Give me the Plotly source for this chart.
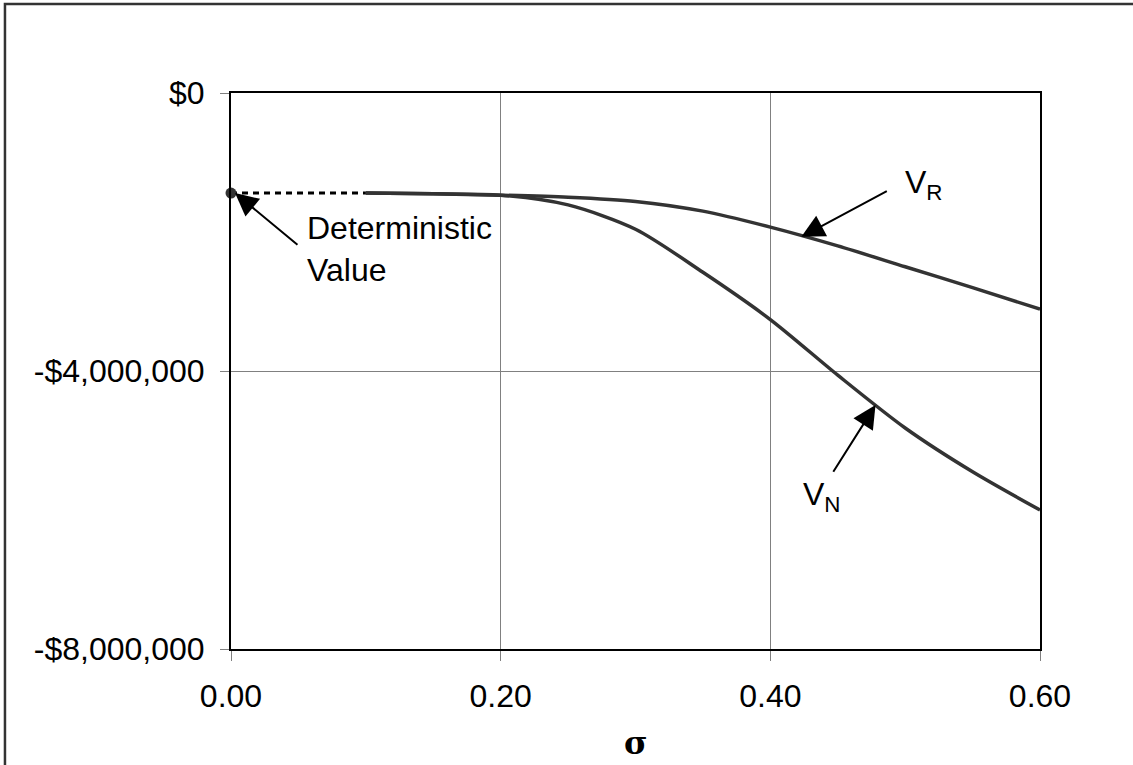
import plotly.graph_objects as go

# Data
sigma = [0.10, 0.15, 0.20, 0.25, 0.30, 0.35, 0.40, 0.45, 0.50, 0.55, 0.60]
v_r = [-1.44e6, -1.45e6, -1.47e6, -1.50e6, -1.56e6, -1.70e6, -1.93e6, -2.20e6, -2.50e6, -2.80e6, -3.11e6]
v_n = [-1.44e6, -1.45e6, -1.47e6, -1.61e6, -1.96e6, -2.58e6, -3.26e6, -4.06e6, -4.82e6, -5.45e6, -6.00e6]
det_sigma = [0.0, 0.10]
det_value = [-1.44e6, -1.44e6]
x_ticks = [0.0, 0.2, 0.4, 0.6]
x_tick_text = ["0.00", "0.20", "0.40", "0.60"]
y_ticks = [0, -4e6, -8e6]
y_tick_text = ["$0", "-$4,000,000", "-$8,000,000"]

FONT = "Liberation Sans, Arial, sans-serif"
LINE = "#333333"

fig = go.Figure()
fig.add_trace(go.Scatter(x=sigma, y=v_r, mode="lines", line=dict(color=LINE, width=3.5, shape="spline", smoothing=0.8), showlegend=False))
fig.add_trace(go.Scatter(x=sigma, y=v_n, mode="lines", line=dict(color=LINE, width=3.5, shape="spline", smoothing=0.8), showlegend=False))
fig.add_trace(go.Scatter(x=det_sigma, y=det_value, mode="lines", line=dict(color="black", width=3, dash="6px,5px"), showlegend=False))
fig.add_trace(go.Scatter(x=[det_sigma[0]], y=[det_value[0]], mode="markers",
                         marker=dict(color=LINE, size=11), showlegend=False, cliponaxis=False))

arrow = dict(showarrow=True, arrowhead=2, arrowsize=2.3, arrowwidth=2, arrowcolor="black",
             axref="x", ayref="y", xref="x", yref="y", text="")
fig.add_annotation(x=0.003, y=-1.44e6, ax=0.0504, ay=-2.20e6, **arrow)
fig.add_annotation(x=0.423, y=-2.07e6, ax=0.4875, ay=-1.40e6, **arrow)
fig.add_annotation(x=0.478, y=-4.49e6, ax=0.446, ay=-5.47e6, **arrow)

tfont = dict(family=FONT, size=32, color="black")
fig.add_annotation(x=0.0549, y=-2.245e6, text="Deterministic<br>Value", showarrow=False,
                   xanchor="left", yanchor="middle", align="left", font=tfont)
fig.add_annotation(x=0.514, y=-1.32e6, text="V<sub>R</sub>", showarrow=False,
                   xanchor="center", yanchor="middle", font=tfont)
fig.add_annotation(x=0.4385, y=-5.81e6, text="V<sub>N</sub>", showarrow=False,
                   xanchor="center", yanchor="middle", font=tfont)
fig.add_annotation(x=0.5, y=-0.169, xref="paper", yref="paper", text="<b>σ</b>", showarrow=False,
                   xanchor="center", yanchor="middle", font=dict(family="DejaVu Serif, serif", size=32, color="black"))

# outer frame
fig.add_shape(type="rect", xref="paper", yref="paper", x0=-0.2794, x1=1.13, y0=-0.23, y1=1.16,
              line=dict(color="#333333", width=2.5), fillcolor="rgba(0,0,0,0)")

fig.update_xaxes(range=[0, 0.6], tickvals=x_ticks, ticktext=x_tick_text, showgrid=True,
                 gridcolor="#808080", gridwidth=1, showline=True, linecolor="black", linewidth=2,
                 mirror=True, ticks="outside", ticklen=10, tickcolor="#808080", tickwidth=1,
                 tickfont=tfont, zeroline=False, ticklabelstandoff=8)
fig.update_yaxes(range=[-8e6, 0], tickvals=y_ticks, ticktext=y_tick_text, showgrid=True,
                 gridcolor="#808080", gridwidth=1, showline=True, linecolor="black", linewidth=2,
                 mirror=True, ticks="outside", ticklen=9, tickcolor="#808080", tickwidth=1,
                 tickfont=tfont, zeroline=False, ticklabelstandoff=9)

fig.update_layout(width=1133, height=765, margin=dict(l=231, r=93, t=93, b=116),
                  paper_bgcolor="white", plot_bgcolor="white", showlegend=False)

fig.write_html("out.html", config={"displayModeBar": False},
               post_script="document.body.style.margin='0px';document.body.style.overflow='hidden';")
